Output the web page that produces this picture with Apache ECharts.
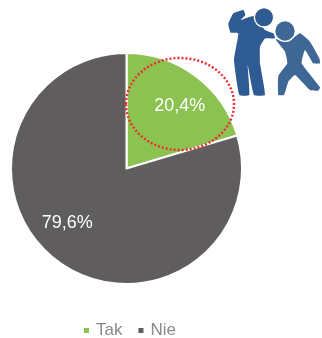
<!DOCTYPE html>
<html>
<head>
<meta charset="utf-8">
<style>html,body{margin:0;padding:0;background:#fff}#chart{width:322px;height:338px}</style>
<script src="https://cdn.jsdelivr.net/npm/echarts@6/dist/echarts.min.js"></script>
</head>
<body>
<div id="chart"></div>
<script>
const categories = ['Tak', 'Nie'];
const shares = [20.4, 79.6];
const sliceColors = ['#8cc24f', '#5f5d5e'];
const labelOffsets = [[17, -14], [-23, 6]];

// Outlines of the two figures, in icon units (1 unit = 1/3 px)
const tallFigure = [[55,72],[70,40],[100,30],[106,45],[92,60],[130,48],[165,90],[190,100],[195,115],[166,115],[150,140],[150,190],[165,285],[132,285],[113,195],[118,285],[88,285],[72,180],[85,100],[62,98]];
const shortFigure = [[235,125],[270,100],[300,125],[328,175],[330,190],[310,190],[285,150],[275,190],[330,262],[325,272],[300,270],[255,225],[235,245],[222,285],[205,285],[205,228],[232,190],[225,155],[197,118]];
const heads = [[162,52,29,'#2f5b93'],[225,93,31,'#3f6796']];

const iconParts = [
  { type: 'polygon', shape: { points: tallFigure, smooth: 0.12 }, style: { fill: '#2f5b93' } },
  { type: 'polygon', shape: { points: shortFigure, smooth: 0.12 }, style: { fill: '#3f6796' } }
].concat(heads.map(h => ({
  type: 'circle',
  shape: { cx: h[0], cy: h[1], r: h[2] },
  style: { fill: h[3], stroke: '#fff', lineWidth: 4 }
})));

const chart = echarts.init(document.getElementById('chart'), null, { renderer: 'canvas' });
chart.setOption({
  animation: false,
  backgroundColor: '#fff',
  textStyle: { fontFamily: 'Liberation Sans' },
  legend: {
    data: categories,
    left: 77,
    top: 317,
    icon: 'rect',
    itemWidth: 7,
    itemHeight: 7,
    itemGap: 14,
    textStyle: { color: '#8a8a8a', fontSize: 17, padding: [0, 0, 0, 1] }
  },
  series: [{
    type: 'pie',
    center: [126.5, 168.5],
    radius: [0, 115.5],
    startAngle: 90,
    clockwise: true,
    silent: true,
    itemStyle: { borderColor: '#fff', borderWidth: 2 },
    label: {
      show: true,
      position: 'inside',
      color: '#fff',
      fontSize: 18,
      formatter: p => p.value.toFixed(1).replace('.', ',') + '%'
    },
    labelLine: { show: false },
    data: categories.map((name, i) => ({
      name,
      value: shares[i],
      itemStyle: { color: sliceColors[i] },
      label: { offset: labelOffsets[i] }
    }))
  }],
  graphic: [
    {
      type: 'group',
      x: 210, y: 0, scaleX: 1 / 3, scaleY: 1 / 3,
      silent: true,
      children: iconParts
    },
    {
      type: 'ellipse',
      shape: { cx: 180, cy: 104, rx: 54, ry: 46 },
      style: { fill: 'none', stroke: '#ec2a30', lineWidth: 2.4, lineDash: [2, 2] },
      silent: true,
      z: 10
    }
  ]
});
</script>
</body>
</html>
